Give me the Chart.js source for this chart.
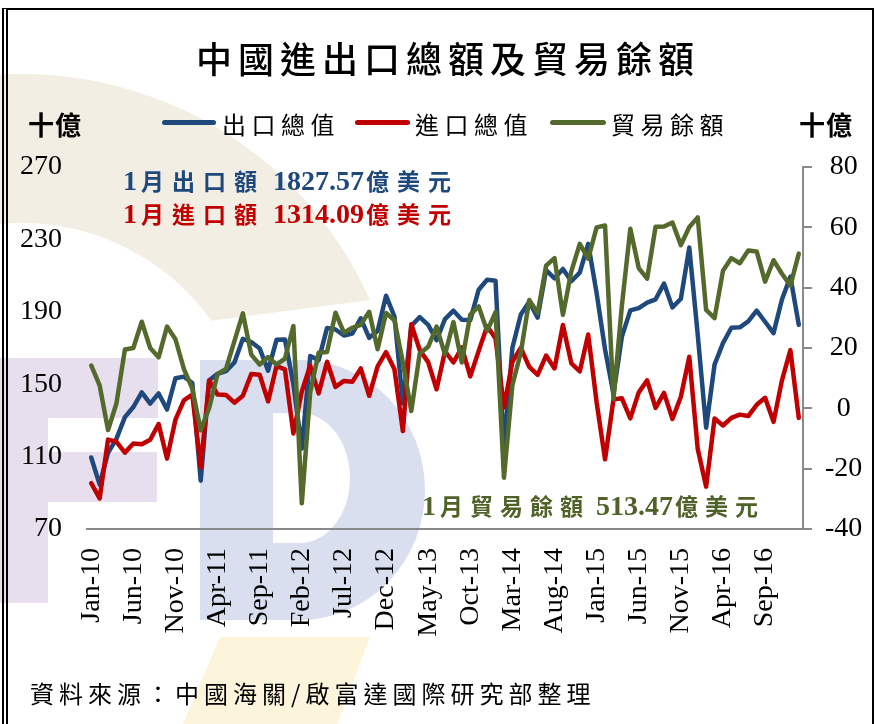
<!DOCTYPE html>
<html>
<head>
<meta charset="utf-8">
<title>中國進出口總額及貿易餘額</title>
<script src="https://cdn.jsdelivr.net/npm/chart.js@4.4.1/dist/chart.umd.min.js"></script>
<style>
html, body { margin: 0; padding: 0; background: #fff; }
#wrap { position: relative; width: 875px; height: 724px; overflow: hidden; }
#bg, #chart { position: absolute; left: 0; top: 0; }
#chart { z-index: 1; }
.frame { position: absolute; left: 2px; top: 8px; width: 864px; height: 740px; z-index: 3;
  border-top: 2px solid #000; border-right: 2px solid #000; border-left: 6px double #000; }
.t { position: absolute; white-space: nowrap; z-index: 2; font-family: 'Noto Sans CJK TC', sans-serif; color: #000; line-height: 1; }
.title { left: 196px; top: 39px; font-size: 36px; letter-spacing: 6px; font-weight: 500; }
.unit { top: 111px; font-size: 26px; font-weight: 700; letter-spacing: 1px; }
.leg { top: 112px; font-size: 24px; letter-spacing: 5.5px; }
.sw { position: absolute; height: 5px; border-radius: 3px; top: 120px; z-index: 2; }
.note { font-family: 'Liberation Serif', serif; font-weight: 700; font-size: 28px; }
.note .c { font-family: 'Noto Sans CJK TC', sans-serif; font-size: 23px; letter-spacing: 8px; font-weight: 700; }
.note .c1 { margin-left: 4px; }
.note .n { margin-left: 8px; }
.note .c2 { margin-left: 2px; }
.note.g .c { letter-spacing: 7px; }
.note.g .n { margin-left: 6px; }
.src { left: 30px; top: 681px; font-size: 24px; letter-spacing: 5px; }
</style>
</head>
<body>
<div id="wrap">
  <canvas id="bg" width="875" height="724"></canvas>
  <canvas id="chart" width="875" height="724"></canvas>
  <div class="frame"></div>

  <div class="t title">中國進出口總額及貿易餘額</div>
  <div class="t unit" style="left:28px">十億</div>
  <div class="t unit" style="left:799px">十億</div>

  <div class="sw" style="left:162px;width:54px;background:#1f497d"></div>
  <div class="t leg" style="left:222px">出口總值</div>
  <div class="sw" style="left:355px;width:55px;background:#c00000"></div>
  <div class="t leg" style="left:415px">進口總值</div>
  <div class="sw" style="left:550px;width:56px;background:#546a2c"></div>
  <div class="t leg" style="left:611px">貿易餘額</div>

  <div class="t note" style="left:123px;top:167px;color:#1f497d">1<span class="c c1">月出口額</span><span class="n">1827.57</span><span class="c c2">億美元</span></div>
  <div class="t note" style="left:123px;top:200px;color:#c00000">1<span class="c c1">月進口額</span><span class="n">1314.09</span><span class="c c2">億美元</span></div>
  <div class="t note g" style="left:422px;top:492px;color:#4f6228">1<span class="c c1">月貿易餘額</span><span class="n">513.47</span><span class="c c2">億美元</span></div>

  <div class="t src">資料來源：中國海關/啟富達國際研究部整理</div>
</div>

<script>
// 月份 (Jan-10 ~ Jan-17)
const months = [
  'Jan-10','Feb-10','Mar-10','Apr-10','May-10','Jun-10','Jul-10','Aug-10','Sep-10','Oct-10','Nov-10','Dec-10',
  'Jan-11','Feb-11','Mar-11','Apr-11','May-11','Jun-11','Jul-11','Aug-11','Sep-11','Oct-11','Nov-11','Dec-11',
  'Jan-12','Feb-12','Mar-12','Apr-12','May-12','Jun-12','Jul-12','Aug-12','Sep-12','Oct-12','Nov-12','Dec-12',
  'Jan-13','Feb-13','Mar-13','Apr-13','May-13','Jun-13','Jul-13','Aug-13','Sep-13','Oct-13','Nov-13','Dec-13',
  'Jan-14','Feb-14','Mar-14','Apr-14','May-14','Jun-14','Jul-14','Aug-14','Sep-14','Oct-14','Nov-14','Dec-14',
  'Jan-15','Feb-15','Mar-15','Apr-15','May-15','Jun-15','Jul-15','Aug-15','Sep-15','Oct-15','Nov-15','Dec-15',
  'Jan-16','Feb-16','Mar-16','Apr-16','May-16','Jun-16','Jul-16','Aug-16','Sep-16','Oct-16','Nov-16','Dec-16',
  'Jan-17'
];

// 出口總值 (十億美元, 左軸)
const exportVals = [
  109.5, 94.5, 112.1, 119.9, 131.8, 137.4, 145.5, 139.3, 144.9, 136.0, 153.3, 154.2,
  150.7, 96.7, 152.2, 155.7, 157.2, 162.0, 175.1, 173.3, 169.7, 157.5, 174.5, 174.7,
  149.9, 114.5, 165.6, 163.3, 181.1, 180.2, 176.9, 178.0, 186.4, 175.6, 179.4, 198.9,
  187.4, 139.4, 182.2, 187.1, 182.8, 174.3, 186.0, 190.6, 185.6, 185.4, 202.2, 207.7,
  207.1, 114.1, 170.1, 188.5, 195.5, 186.8, 213.0, 208.5, 213.7, 206.9, 211.6, 227.5,
  200.3, 169.2, 144.6, 176.3, 190.8, 192.0, 195.1, 196.9, 205.6, 192.4, 197.2, 225.5,
  177.5, 126.0, 160.8, 172.7, 181.2, 181.4, 184.7, 190.6, 184.5, 178.2, 196.8, 209.4,
  182.8
];

// 進口總值 (十億美元, 左軸)
const importVals = [
  95.3, 86.9, 119.4, 118.2, 112.2, 117.2, 116.8, 119.3, 128.0, 108.9, 130.4, 141.1,
  144.3, 104.0, 152.1, 144.3, 144.1, 139.8, 143.6, 155.6, 155.2, 140.5, 160.0, 158.2,
  122.8, 146.0, 160.3, 144.9, 162.4, 148.5, 151.8, 151.3, 158.7, 143.6, 159.8, 167.7,
  158.2, 124.1, 183.1, 168.9, 162.2, 147.2, 168.2, 162.0, 170.3, 154.3, 168.4, 182.1,
  175.3, 137.1, 162.4, 170.1, 159.6, 155.1, 165.8, 158.7, 182.7, 161.5, 157.1, 177.5,
  140.0, 108.5, 141.5, 142.2, 131.1, 145.5, 152.1, 136.9, 145.2, 130.8, 143.1, 165.2,
  114.3, 93.4, 131.0, 127.2, 131.4, 133.2, 132.4, 138.6, 142.5, 129.2, 152.1, 168.8,
  131.4
];

// 貿易餘額 (十億美元, 右軸)
const balanceVals = [
  14.2, 7.6, -7.2, 1.7, 19.5, 20.0, 28.7, 20.0, 16.9, 27.1, 22.9, 13.1,
  6.5, -7.3, 0.1, 11.4, 13.1, 22.3, 31.5, 17.8, 14.5, 17.0, 14.5, 16.5,
  27.3, -31.5, 5.3, 18.4, 18.7, 31.7, 25.1, 26.7, 27.7, 32.0, 19.6, 31.6,
  29.2, 15.2, -0.9, 18.2, 20.4, 27.1, 17.8, 28.6, 15.2, 31.1, 33.8, 25.6,
  31.9, -23.0, 7.7, 18.5, 35.9, 31.6, 47.3, 49.8, 31.0, 45.4, 54.5, 49.6,
  60.0, 60.6, 3.1, 34.1, 59.5, 46.5, 43.0, 60.2, 60.3, 61.6, 54.1, 60.1,
  63.3, 32.6, 29.9, 45.6, 49.8, 48.1, 52.3, 52.0, 42.0, 49.1, 44.6, 40.7,
  51.3
];

// 軸刻度
const leftTicks = [70, 110, 150, 190, 230, 270];
const rightTicks = [-40, -20, 0, 20, 40, 60, 80];
const labelEvery = 5;

// 背景浮水印 (FD 標誌)
(function drawWatermark() {
  const c = document.getElementById('bg').getContext('2d');
  c.fillStyle = '#fff';
  c.fillRect(0, 0, 875, 724);

  // 米色弧形
  c.save();
  c.beginPath();
  c.moveTo(0, 0);
  c.lineTo(875, 0);
  c.lineTo(875, 230);
  c.lineTo(370, 300);
  c.lineTo(217, 320);
  c.lineTo(0, 350);
  c.closePath();
  c.clip();
  c.beginPath();
  c.arc(22, 455, 381, 0, Math.PI * 2);
  c.arc(22, 455, 232, 0, Math.PI * 2, true);
  c.fillStyle = '#f3eee4';
  c.fill('evenodd');
  c.restore();

  // 下方黃色
  c.beginPath();
  c.moveTo(220, 637);
  c.lineTo(370, 637);
  c.lineTo(337, 724);
  c.lineTo(183, 724);
  c.closePath();
  c.fillStyle = '#fdf4dc';
  c.fill();

  // 紫色 F
  c.fillStyle = '#e7dfed';
  c.fillRect(0, 358, 48, 245);
  c.fillRect(0, 358, 158, 60);
  c.fillRect(0, 452, 157, 50);

  // 藍色 D
  c.beginPath();
  c.moveTo(200, 360);
  c.lineTo(300, 360);
  c.ellipse(300, 490, 125, 130, 0, -Math.PI / 2, Math.PI / 2);
  c.lineTo(200, 620);
  c.closePath();
  c.moveTo(273, 413);
  c.lineTo(300, 413);
  c.ellipse(300, 478, 50, 65, 0, -Math.PI / 2, Math.PI / 2);
  c.lineTo(273, 543);
  c.closePath();
  c.fillStyle = '#d9dfee';
  c.fill('evenodd');
})();

const serif = "'Liberation Serif', 'Times New Roman', serif";
const axisGray = '#898989';

new Chart(document.getElementById('chart'), {
  type: 'line',
  data: {
    labels: months,
    datasets: [
      { label: '出口總值', data: exportVals, yAxisID: 'y', borderColor: '#1f497d', order: 3 },
      { label: '進口總值', data: importVals, yAxisID: 'y', borderColor: '#c00000', order: 2 },
      { label: '貿易餘額', data: balanceVals, yAxisID: 'y1', borderColor: '#546a2c', order: 1 }
    ]
  },
  options: {
    responsive: false,
    animation: false,
    devicePixelRatio: 1,
    layout: { padding: { top: 167, left: 0, right: 0, bottom: 0 } },
    elements: {
      line: { borderWidth: 4.5, tension: 0, borderJoinStyle: 'round', borderCapStyle: 'round', fill: false },
      point: { radius: 0, hoverRadius: 0 }
    },
    plugins: { legend: { display: false }, title: { display: false }, tooltip: { enabled: false } },
    scales: {
      x: {
        offset: true,
        grid: { display: false, drawTicks: false, tickLength: 0 },
        border: { display: true, color: axisGray, width: 2 },
        ticks: {
          autoSkip: false, minRotation: 90, maxRotation: 90, padding: 19,
          color: '#000', font: { family: serif, size: 28 },
          callback: (v, i) => (i % labelEvery === 0 ? months[i] : '')
        },
        afterFit: s => { s.height = 195; }
      },
      y: {
        position: 'left',
        min: leftTicks[0], max: leftTicks[leftTicks.length - 1],
        grid: { display: false, drawTicks: false, tickLength: 0 },
        border: { display: false },
        ticks: { stepSize: 40, padding: 25, crossAlign: 'near', color: '#000', font: { family: serif, size: 28 } },
        afterFit: s => { s.width = 87; }
      },
      y1: {
        position: 'right',
        min: rightTicks[0], max: rightTicks[rightTicks.length - 1],
        grid: { display: true, drawOnChartArea: false, drawTicks: true, tickLength: 9, color: axisGray, lineWidth: 2 },
        border: { display: true, color: axisGray, width: 2 },
        ticks: { stepSize: 20, padding: 13, crossAlign: 'center', color: '#000', font: { family: serif, size: 28 } },
        afterFit: s => { s.width = 72; }
      }
    }
  }
});
</script>
</body>
</html>
